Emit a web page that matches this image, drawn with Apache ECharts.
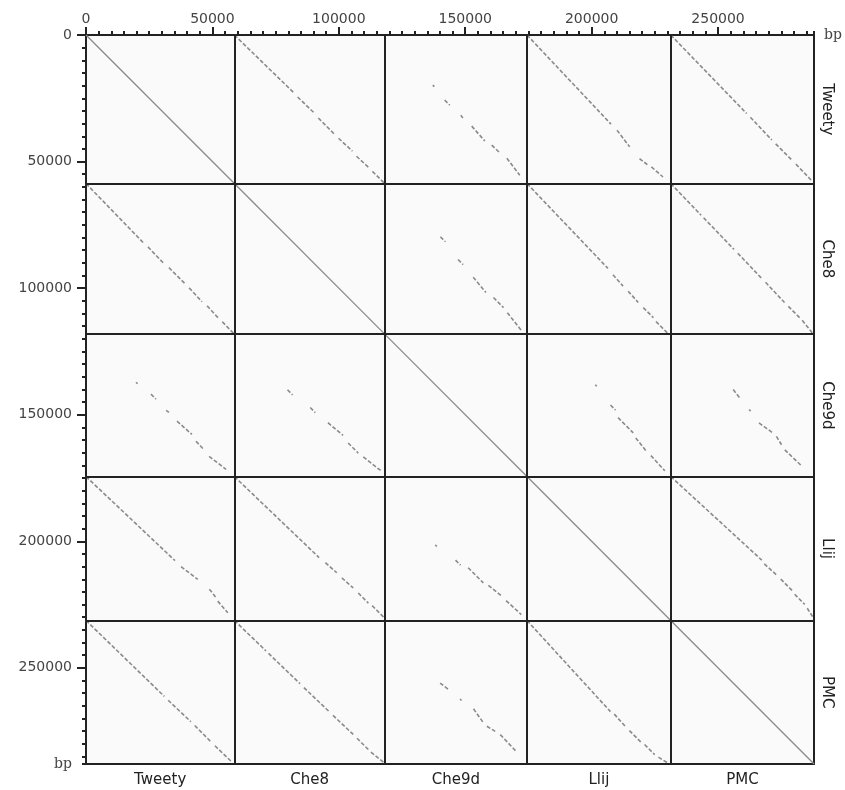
<!DOCTYPE html>
<html style="height: 100%">
<head>
<meta charset="utf-8">
<script type="text/javascript" src="https://cdn.jsdelivr.net/npm/echarts/dist/echarts.min.js"></script>
</head>
<body style="height: 100%; margin: 0; background: #fff">
<div id="container" style="width: 845px; height: 790px"></div>
<script type="text/javascript">
// genomes, in plot order, with their lengths in bp
var genomes = ['Tweety', 'Che8', 'Che9d', 'Llij', 'PMC'];
var genomeLengths = [58692, 59471, 56276, 56852, 56692];
var majorTicks = [0, 50000, 100000, 150000, 200000, 250000];

// matching segments for each pair, in kb inside the cell
// [xStart, yStart, xEnd, yEnd]; x = column genome, y = row genome
var tweetyChe8 = [[0, 0, 23.7, 23], [25, 24.5, 31.7, 30.9], [33.2, 32.8, 39.6, 39.2], [41.2, 40.8, 46.7, 45.9], [48.3, 47.9, 53.4, 52.6], [54.6, 53.9, 59.2, 58.4]];
var tweetyChe9d = [[19, 19.8, 19.6, 20.4], [23.7, 25.7, 25.7, 27.7], [30.1, 31.7, 30.9, 32.8], [34.4, 36.0, 39.6, 41.9], [42.3, 43.5, 45.5, 46.5], [48.3, 48.7, 53.4, 55.4]];
var tweetyLlij = [[0, 0, 33.2, 35.2], [35.6, 37.6, 40.6, 44.2], [44.5, 48.8, 47.8, 51.4], [49.2, 52.1, 53.8, 56.1]];
var tweetyPMC = [[0, 0, 30, 31], [31.5, 32.5, 40, 41.5], [41.5, 43, 48, 49.5], [49.5, 51, 56, 57.8]];
var che8Che9d = [[22, 21, 24, 23], [29, 30, 31, 32], [35, 37, 40, 43], [43, 45, 47, 49], [48.5, 51, 54, 58]];
var che8Llij = [[0, 0, 32, 33.5], [34, 36, 38, 40.5], [40, 42.5, 44, 47], [46, 49, 50, 53], [51, 54.5, 55.5, 59]];
var che8PMC = [[0, 0, 12, 12.5], [13, 13.5, 25, 26], [26.5, 27.5, 36, 37.5], [37.5, 39, 45, 47], [46.5, 48.5, 51, 53], [52, 54, 56, 59]];
var che9dLlij = [[27, 20, 27.6, 20.6], [33, 28, 35, 30], [36, 33, 42, 39], [43, 41, 47, 46], [49, 48, 54.5, 54]];
var che9dPMC = [[24.7, 21.9, 27.3, 25.2], [31, 29.8, 31.6, 30.4], [34.9, 35.1, 40.5, 39.1], [41.8, 40.4, 43.8, 43.7], [45.1, 45.7, 51.7, 52]];
var llijPMC = [[0, 0, 36, 33], [37, 34.5, 42, 39], [43.5, 40.5, 48, 45], [49, 46.5, 53, 50.5], [54, 52, 56.5, 56]];

// [row genome, column genome, segments]
var pairs = [
    [0, 1, tweetyChe8], [0, 2, tweetyChe9d], [0, 3, tweetyLlij], [0, 4, tweetyPMC],
    [1, 2, che8Che9d], [1, 3, che8Llij], [1, 4, che8PMC],
    [2, 3, che9dLlij], [2, 4, che9dPMC],
    [3, 4, llijPMC]
];

// start of every genome on the concatenated axis
var offsets = [];
var total = 0;
genomeLengths.forEach(function (len) {
    offsets.push(total);
    total += len;
});
var boundaries = offsets.slice(1);
var mids = offsets.map(function (o, i) { return o + genomeLengths[i] / 2; });

var selfLines = offsets.map(function (o, i) {
    return { coords: [[o, o], [o + genomeLengths[i], o + genomeLengths[i]]] };
});

var pairLines = [];
pairs.forEach(function (p) {
    var r = p[0], c = p[1];
    p[2].forEach(function (s) {
        // upper cell (row r, column c)
        pairLines.push({ coords: [[offsets[c] + s[0] * 1000, offsets[r] + s[1] * 1000], [offsets[c] + s[2] * 1000, offsets[r] + s[3] * 1000]] });
        // mirrored cell (row c, column r)
        pairLines.push({ coords: [[offsets[r] + s[1] * 1000, offsets[c] + s[0] * 1000], [offsets[r] + s[3] * 1000, offsets[c] + s[2] * 1000]] });
    });
});

function nameAt(v) {
    for (var i = 0; i < mids.length; i++) {
        if (Math.abs(mids[i] - v) < 1) return genomes[i];
    }
    return '';
}

var dom = document.getElementById('container');
var myChart = echarts.init(dom);

var tickLabel = { color: '#444', fontFamily: 'DejaVu Sans', fontSize: 14 };

var option = {
    animation: false,
    backgroundColor: '#fff',
    grid: {
        left: 86, top: 35, width: 729, height: 729,
        show: true, backgroundColor: '#fafafa', borderWidth: 0
    },
    xAxis: [
        {
            // main top axis with labels
            type: 'value', position: 'top', min: 0, max: total,
            axisLine: { show: true, lineStyle: { color: '#222', width: 2 } },
            axisTick: { show: true, length: 8, customValues: majorTicks, lineStyle: { color: '#222', width: 2 } },
            axisLabel: Object.assign({
                customValues: majorTicks, margin: 9,
                formatter: function (v) { return String(v); }
            }, tickLabel),
            splitLine: { show: false },
            name: 'bp', nameLocation: 'end', nameGap: 10,
            nameTextStyle: { color: '#444', fontFamily: 'DejaVu Serif', fontSize: 14, verticalAlign: 'middle', padding: [0, 0, 4, 0] }
        },
        {
            // minor ticks every 5000 bp
            type: 'value', position: 'top', min: 0, max: total, interval: 5000,
            axisLine: { show: false },
            axisTick: { show: true, length: 4, lineStyle: { color: '#222', width: 2 } },
            axisLabel: { show: false },
            splitLine: { show: false }
        },
        {
            // genome names along the bottom
            type: 'value', position: 'bottom', min: 0, max: total,
            axisLine: { show: true, onZero: false, lineStyle: { color: '#222', width: 2 } },
            axisTick: { show: false },
            axisLabel: {
                customValues: mids, margin: 9, color: '#222', fontFamily: 'DejaVu Sans', fontSize: 15,
                formatter: function (v) { return nameAt(v); }
            },
            splitLine: { show: false }
        }
    ],
    yAxis: [
        {
            type: 'value', position: 'left', inverse: true, min: 0, max: total,
            axisLine: { show: true, onZero: false, lineStyle: { color: '#222', width: 2 } },
            axisTick: { show: true, length: 9, customValues: majorTicks, lineStyle: { color: '#222', width: 2 } },
            axisLabel: Object.assign({
                customValues: majorTicks.concat([total]), margin: 14,
                formatter: function (v) { return v === total ? '{bp|bp}' : String(v); },
                rich: { bp: { fontFamily: 'DejaVu Serif', fontSize: 14, color: '#444' } }
            }, tickLabel),
            splitLine: { show: false }
        },
        {
            type: 'value', position: 'left', inverse: true, min: 0, max: total, interval: 5000,
            axisLine: { show: false },
            axisTick: { show: true, length: 4, lineStyle: { color: '#222', width: 2 } },
            axisLabel: { show: false },
            splitLine: { show: false }
        },
        {
            type: 'value', position: 'right', inverse: true, min: 0, max: total,
            axisLine: { show: true, onZero: false, lineStyle: { color: '#222', width: 2 } },
            axisTick: { show: false },
            axisLabel: {
                customValues: mids, margin: 5, rotate: -90, color: '#222', fontFamily: 'DejaVu Sans', fontSize: 15,
                formatter: function (v) { return nameAt(v); }
            },
            splitLine: { show: false }
        }
    ],
    series: [
        {
            // cell borders between genomes
            type: 'line', xAxisIndex: 0, yAxisIndex: 0, data: [],
            markLine: {
                silent: true, symbol: ['none', 'none'], label: { show: false },
                lineStyle: { color: '#222', width: 2, type: 'solid' },
                data: boundaries.map(function (b) { return { xAxis: b }; })
                    .concat(boundaries.map(function (b) { return { yAxis: b }; }))
            }
        },
        {
            type: 'lines', coordinateSystem: 'cartesian2d', xAxisIndex: 0, yAxisIndex: 0,
            silent: true,
            lineStyle: { color: '#8a8a8a', width: 1.3, opacity: 1 },
            data: selfLines
        },
        {
            type: 'lines', coordinateSystem: 'cartesian2d', xAxisIndex: 0, yAxisIndex: 0,
            silent: true,
            lineStyle: { color: '#6e6e6e', width: 1.6, opacity: 0.8, type: [4, 2] },
            data: pairLines
        }
    ]
};

myChart.setOption(option);
</script>
</body>
</html>
